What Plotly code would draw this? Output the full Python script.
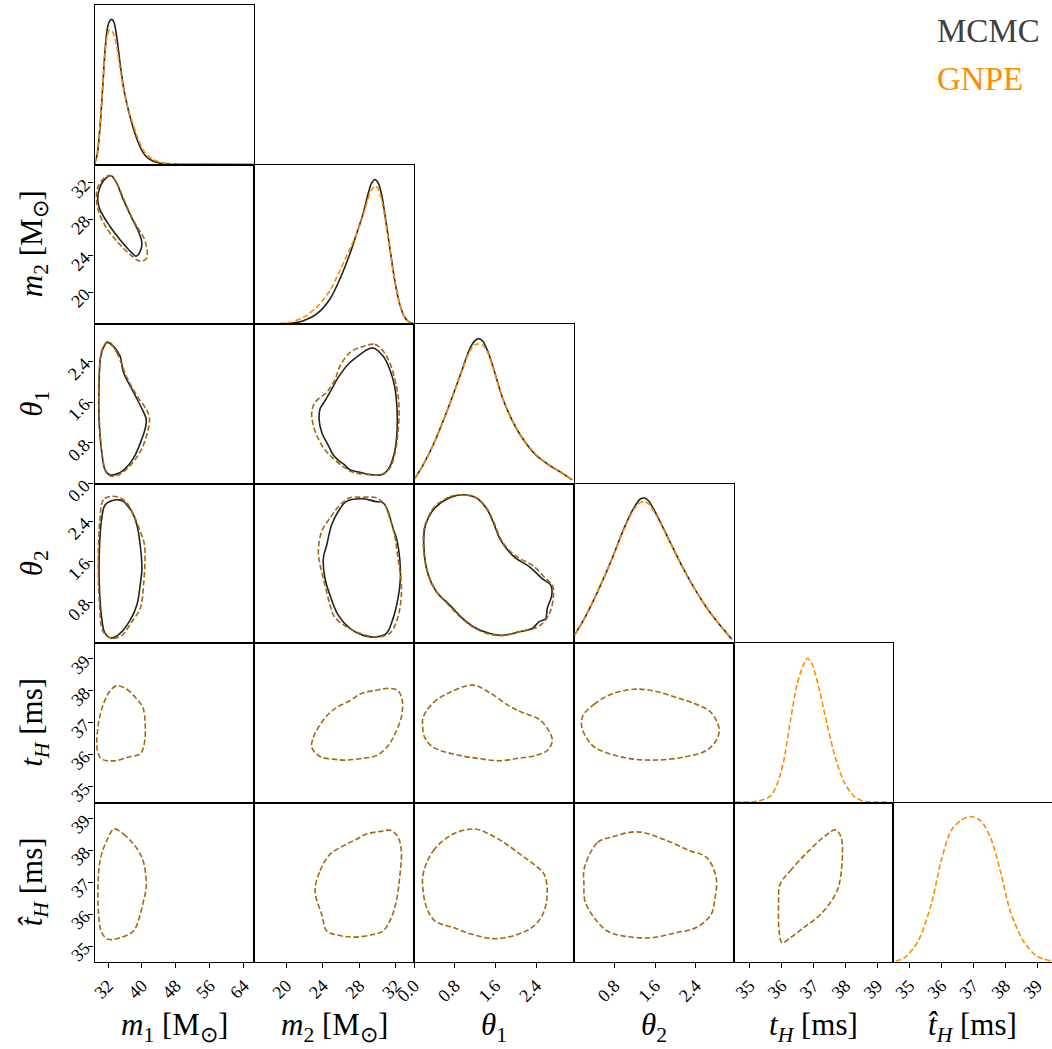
import plotly.graph_objects as go

# ---------------- data ----------------
# 1D marginals (x value, relative density height)
m1_grid_mcmc = [28.84, 29.47, 30.10, 30.74, 31.29, 31.84, 32.32, 32.87, 33.42, 34.05, 34.84, 35.63, 36.42, 37.21, 38.0, 38.79, 39.58, 40.76, 42.34, 44.31, 47.47, 55.4, 66.4]
m1_dens_mcmc = [0.004, 0.067, 0.235, 0.486, 0.717, 0.853, 0.897, 0.91, 0.889, 0.80, 0.633, 0.486, 0.382, 0.298, 0.224, 0.161, 0.109, 0.057, 0.025, 0.008, 0.003, 0.001, 0.0]
m1_grid_gnpe = [28.84, 29.47, 30.10, 30.74, 31.29, 31.84, 32.32, 32.87, 33.42, 34.05, 34.84, 35.63, 36.42, 37.21, 38.0, 38.79, 39.58, 40.76, 42.34, 44.31, 47.47, 55.4, 66.4]
m1_dens_gnpe = [0.008, 0.078, 0.245, 0.486, 0.696, 0.811, 0.843, 0.839, 0.811, 0.738, 0.602, 0.476, 0.382, 0.308, 0.245, 0.182, 0.130, 0.071, 0.036, 0.015, 0.004, 0.002, 0.0]

m2_grid = [16.62, 18.98, 20.44, 21.89, 23.34, 24.80, 25.89, 26.98, 27.71, 28.43, 28.98, 29.34, 29.71, 30.07, 30.43, 30.80, 31.34, 31.89, 32.43, 32.98, 33.52, 33.89]
m2_dens_mcmc = [0.0, 0.0, 0.004, 0.021, 0.063, 0.157, 0.283, 0.440, 0.566, 0.692, 0.818, 0.881, 0.906, 0.885, 0.818, 0.692, 0.482, 0.273, 0.126, 0.042, 0.010, 0.004]
m2_dens_gnpe = [0.0, 0.002, 0.010, 0.042, 0.105, 0.210, 0.336, 0.472, 0.566, 0.681, 0.786, 0.839, 0.864, 0.849, 0.786, 0.671, 0.472, 0.273, 0.126, 0.042, 0.010, 0.004]

th1_grid = [0.02, 0.18, 0.38, 0.57, 0.77, 0.96, 1.09, 1.19, 1.27, 1.35, 1.45, 1.58, 1.74, 1.94, 2.13, 2.39, 2.65, 2.91, 3.11]
th1_dens_mcmc = [0.033, 0.117, 0.243, 0.390, 0.557, 0.725, 0.840, 0.893, 0.908, 0.893, 0.830, 0.704, 0.536, 0.390, 0.285, 0.180, 0.117, 0.065, 0.023]
th1_dens_gnpe = [0.033, 0.117, 0.243, 0.390, 0.557, 0.720, 0.825, 0.868, 0.875, 0.868, 0.820, 0.700, 0.536, 0.392, 0.288, 0.185, 0.120, 0.068, 0.025]

th2_grid = [0.016, 0.21, 0.47, 0.73, 0.99, 1.18, 1.31, 1.39, 1.47, 1.63, 1.89, 2.15, 2.41, 2.67, 2.93, 3.11]
th2_dens_mcmc = [0.049, 0.154, 0.322, 0.511, 0.720, 0.846, 0.903, 0.909, 0.892, 0.804, 0.636, 0.469, 0.322, 0.196, 0.091, 0.024]
th2_dens_gnpe = [0.049, 0.154, 0.322, 0.511, 0.715, 0.835, 0.880, 0.885, 0.872, 0.795, 0.632, 0.467, 0.322, 0.196, 0.091, 0.024]

tH_grid = [34.55, 35.23, 35.65, 35.86, 36.07, 36.28, 36.49, 36.70, 36.82, 36.96, 37.17, 37.43, 37.69, 37.95, 38.27, 38.58, 39.42]
tH_dens_gnpe = [0.003, 0.008, 0.039, 0.112, 0.259, 0.511, 0.741, 0.867, 0.904, 0.867, 0.720, 0.489, 0.280, 0.133, 0.039, 0.008, 0.003]

tHh_grid = [34.58, 34.86, 35.28, 35.69, 36.0, 36.31, 36.61, 36.90, 37.23, 37.54, 37.85, 38.16, 38.57, 38.98, 39.44]
tHh_dens_gnpe = [0.006, 0.027, 0.132, 0.362, 0.635, 0.824, 0.887, 0.912, 0.887, 0.782, 0.572, 0.321, 0.132, 0.038, 0.006]

# 2D credible contours (closed loops)
m1m2_mcmc_x = [32.71, 34.06, 35.63, 37.62, 39.18, 39.99, 39.58, 38.63, 37.62, 34.84, 32.47, 30.10, 29.56, 29.87, 31.05]
m1m2_mcmc_y = [32.76, 31.93, 30.11, 28.11, 26.65, 25.39, 24.47, 23.93, 24.30, 25.75, 27.20, 29.02, 30.11, 31.20, 32.29]
m1m2_gnpe_x = [32.59, 34.06, 35.79, 37.69, 39.58, 40.65, 41.17, 41.17, 40.06, 39.1, 37.21, 34.37, 31.76, 29.87, 29.27, 29.51, 30.82]
m1m2_gnpe_y = [32.80, 31.93, 30.11, 28.15, 26.62, 25.75, 24.66, 23.75, 23.38, 23.46, 24.11, 25.42, 26.95, 28.69, 30.11, 31.42, 32.40]

m1th1_mcmc_x = [31.83, 33.26, 34.84, 35.63, 38.0, 39.99, 41.0, 40.77, 39.99, 38.40, 36.81, 34.44, 32.47, 31.29, 30.51, 29.87, 29.87, 30.27, 31.05]
m1th1_mcmc_y = [2.78, 2.70, 2.51, 2.19, 1.80, 1.47, 1.27, 1.08, 0.88, 0.56, 0.36, 0.20, 0.17, 0.27, 0.62, 1.27, 1.92, 2.51, 2.70]
m1th1_gnpe_x = [32.07, 34.06, 36.43, 38.80, 41.17, 41.79, 41.31, 39.99, 38.0, 35.63, 33.26, 31.69, 30.74, 29.94, 29.94, 30.74]
m1th1_gnpe_y = [2.80, 2.58, 2.09, 1.73, 1.44, 1.27, 1.01, 0.69, 0.43, 0.23, 0.14, 0.20, 0.49, 1.27, 2.25, 2.67]

m1th2_mcmc_x = [34.44, 32.88, 31.29, 30.51, 29.94, 29.94, 30.51, 31.29, 32.88, 34.84, 37.21, 38.80, 39.58, 39.99, 39.58, 38.80, 37.62, 36.43, 35.63]
m1th2_mcmc_y = [2.82, 2.80, 2.72, 2.46, 1.80, 1.14, 0.48, 0.19, 0.10, 0.19, 0.45, 0.75, 1.14, 1.47, 1.93, 2.33, 2.59, 2.72, 2.79]
m1th2_gnpe_x = [32.88, 30.89, 30.10, 29.70, 29.94, 30.89, 32.88, 35.25, 37.62, 39.58, 40.37, 40.60, 39.58, 38.0, 36.43, 34.84]
m1th2_gnpe_y = [2.89, 2.82, 2.46, 1.80, 0.81, 0.22, 0.09, 0.15, 0.42, 0.68, 1.14, 1.93, 2.20, 2.53, 2.76, 2.86]

m2th1_mcmc_x = [29.52, 30.61, 31.34, 31.87, 32.14, 32.14, 31.87, 31.34, 30.61, 29.52, 28.07, 26.98, 26.43, 25.70, 25.16, 24.61, 23.89, 23.60, 23.71, 24.25, 24.98, 25.70, 26.79, 28.07, 28.80]
m2th1_mcmc_y = [2.67, 2.51, 2.25, 1.92, 1.47, 1.01, 0.62, 0.33, 0.18, 0.17, 0.22, 0.27, 0.36, 0.46, 0.56, 0.75, 1.01, 1.27, 1.47, 1.63, 1.86, 2.09, 2.35, 2.54, 2.63]
m2th1_gnpe_x = [28.43, 29.71, 30.61, 31.34, 32.07, 32.36, 32.25, 31.87, 31.34, 30.25, 28.80, 27.34, 26.25, 25.16, 24.25, 23.52, 22.98, 22.80, 23.16, 24.44, 25.34, 25.89, 26.98]
m2th1_gnpe_y = [2.70, 2.74, 2.61, 2.38, 1.92, 1.53, 1.01, 0.56, 0.30, 0.17, 0.18, 0.22, 0.33, 0.49, 0.66, 0.88, 1.14, 1.40, 1.60, 1.80, 2.05, 2.31, 2.58]

m2th2_mcmc_x = [28.43, 29.71, 30.61, 31.16, 31.70, 32.07, 32.43, 32.51, 32.25, 31.70, 30.98, 29.89, 28.43, 26.98, 25.70, 24.80, 24.25, 24.07, 24.44, 24.98, 25.70, 26.61]
m2th2_mcmc_y = [2.84, 2.79, 2.76, 2.59, 2.26, 2.07, 1.67, 1.27, 0.88, 0.48, 0.19, 0.12, 0.15, 0.29, 0.55, 0.94, 1.27, 1.67, 1.93, 2.33, 2.59, 2.79]
m2th2_gnpe_x = [26.98, 28.43, 29.89, 30.80, 31.34, 31.87, 32.25, 32.62, 32.51, 32.07, 31.34, 29.89, 28.07, 26.61, 25.27, 24.80, 24.25, 23.71, 23.52, 23.89, 24.80, 25.89]
m2th2_gnpe_y = [2.86, 2.87, 2.86, 2.72, 2.46, 2.13, 1.67, 1.14, 0.75, 0.42, 0.19, 0.12, 0.19, 0.32, 0.52, 0.75, 1.14, 1.54, 1.80, 2.20, 2.46, 2.72]

th1th2_mcmc_x = [0.41, 0.70, 0.96, 1.22, 1.42, 1.55, 1.68, 1.81, 2.00, 2.26, 2.52, 2.69, 2.71, 2.62, 2.59, 2.46, 2.33, 2.07, 1.74, 1.48, 1.22, 0.96, 0.70, 0.44, 0.28, 0.20, 0.21, 0.28]
th1th2_mcmc_y = [2.66, 2.86, 2.92, 2.86, 2.66, 2.40, 2.07, 1.87, 1.67, 1.51, 1.27, 1.14, 0.94, 0.68, 0.48, 0.42, 0.29, 0.22, 0.15, 0.19, 0.29, 0.48, 0.75, 1.01, 1.34, 1.80, 2.26, 2.46]
th1th2_gnpe_x = [0.40, 0.70, 0.98, 1.24, 1.44, 1.57, 1.70, 1.84, 2.05, 2.33, 2.58, 2.73, 2.74, 2.68, 2.56, 2.40, 2.10, 1.74, 1.46, 1.20, 0.92, 0.66, 0.44, 0.28, 0.19, 0.20, 0.28]
th1th2_gnpe_y = [2.68, 2.88, 2.92, 2.85, 2.64, 2.38, 2.06, 1.86, 1.68, 1.53, 1.28, 1.12, 0.90, 0.62, 0.42, 0.30, 0.23, 0.15, 0.18, 0.29, 0.50, 0.77, 1.02, 1.36, 1.82, 2.26, 2.48]

m1tH_gnpe_x = [34.06, 36.42, 38.79, 40.21, 40.77, 40.53, 39.58, 37.21, 33.66, 30.50, 29.47, 29.71, 30.89, 32.47]
m1tH_gnpe_y = [38.16, 38.05, 37.74, 37.48, 36.96, 36.33, 36.02, 35.94, 35.81, 35.86, 36.13, 36.96, 37.58, 38.0]
m1tHh_gnpe_x = [33.42, 35.63, 38.0, 39.99, 40.77, 41.0, 40.37, 39.58, 38.0, 34.84, 32.08, 30.50, 29.71, 29.71, 30.26, 31.68]
m1tHh_gnpe_y = [38.67, 38.51, 38.20, 37.78, 37.36, 36.83, 36.42, 35.99, 35.47, 35.26, 35.21, 35.42, 36.10, 37.15, 37.78, 38.30]

m2tH_gnpe_x = [22.80, 22.98, 23.52, 24.44, 25.53, 26.98, 28.25, 29.89, 31.34, 32.25, 32.72, 32.61, 31.89, 31.16, 29.89, 28.43, 26.62, 25.16, 23.71]
m2tH_gnpe_y = [36.23, 36.54, 36.85, 37.22, 37.48, 37.69, 37.92, 38.02, 38.08, 38.0, 37.69, 37.17, 36.64, 36.28, 35.97, 35.89, 35.83, 35.86, 35.94]
m2tHh_gnpe_x = [23.16, 23.71, 24.80, 26.25, 27.71, 28.80, 30.25, 31.52, 32.25, 32.61, 32.43, 32.07, 31.52, 30.61, 29.52, 27.34, 25.53, 24.44, 23.89]
m2tHh_gnpe_y = [36.73, 37.36, 37.88, 38.14, 38.35, 38.51, 38.59, 38.62, 38.41, 37.99, 37.15, 36.42, 35.89, 35.47, 35.36, 35.28, 35.35, 35.47, 35.99]

th1tH_gnpe_x = [0.18, 0.38, 0.70, 1.16, 1.48, 1.87, 2.13, 2.46, 2.65, 2.72, 2.62, 2.39, 2.07, 1.68, 1.22, 0.77, 0.38, 0.21, 0.17]
th1tH_gnpe_y = [37.17, 37.63, 37.95, 38.18, 37.95, 37.53, 37.32, 37.11, 36.75, 36.44, 36.13, 35.97, 35.89, 35.81, 35.89, 36.02, 36.23, 36.54, 36.91]
th1tHh_gnpe_x = [0.18, 0.38, 0.77, 1.19, 1.48, 1.81, 2.13, 2.39, 2.56, 2.62, 2.56, 2.39, 2.13, 1.61, 1.16, 0.77, 0.41, 0.25, 0.18]
th1tHh_gnpe_y = [37.25, 37.99, 38.51, 38.67, 38.51, 38.20, 37.83, 37.52, 37.25, 36.73, 36.10, 35.68, 35.42, 35.23, 35.36, 35.58, 35.79, 36.20, 36.73]

th2tH_gnpe_x = [0.18, 0.40, 0.73, 1.18, 1.57, 2.02, 2.41, 2.70, 2.86, 2.80, 2.61, 2.22, 1.63, 1.05, 0.53, 0.34, 0.16]
th2tH_gnpe_y = [37.22, 37.58, 37.89, 38.05, 38.0, 37.79, 37.58, 37.32, 36.80, 36.44, 36.13, 35.94, 35.83, 35.89, 36.13, 36.33, 36.85]
th2tHh_gnpe_x = [0.21, 0.47, 0.73, 1.25, 1.76, 2.28, 2.61, 2.80, 2.77, 2.70, 2.41, 2.02, 1.50, 0.99, 0.66, 0.40, 0.22, 0.20]
th2tHh_gnpe_y = [37.46, 38.25, 38.41, 38.58, 38.35, 37.99, 37.78, 37.15, 36.42, 35.99, 35.58, 35.42, 35.26, 35.31, 35.47, 35.89, 36.42, 36.94]

tHtHh_gnpe_x = [35.96, 36.28, 36.80, 37.32, 37.69, 37.87, 37.85, 37.69, 37.22, 36.70, 36.28, 36.02, 35.94, 35.91]
tHtHh_gnpe_y = [36.94, 37.36, 37.93, 38.41, 38.64, 38.41, 37.15, 36.62, 35.99, 35.58, 35.26, 35.10, 35.36, 36.31]

# axis labels and ticks
axis_labels = ["<i>m</i><sub>1</sub> [M<sub>⊙</sub>]", "<i>m</i><sub>2</sub> [M<sub>⊙</sub>]",
               "<i>θ</i><sub>1</sub>", "<i>θ</i><sub>2</sub>",
               "<i>t</i><sub><i>H</i></sub> [ms]", "<i>t̂</i><sub><i>H</i></sub> [ms]"]
tick_vals = [[32, 40, 48, 56, 64], [20, 24, 28, 32], [0.0, 0.8, 1.6, 2.4], [0.8, 1.6, 2.4],
             [35, 36, 37, 38, 39], [35, 36, 37, 38, 39]]
tick_text = [["32", "40", "48", "56", "64"], ["20", "24", "28", "32"], ["0.0", "0.8", "1.6", "2.4"],
             ["0.8", "1.6", "2.4"], ["35", "36", "37", "38", "39"], ["35", "36", "37", "38", "39"]]
ranges = [[28.8, 66.5], [16.5, 34.0], [0.0, 3.1416], [0.0, 3.1416], [34.5, 39.5], [34.5, 39.5]]
legend_names = ["MCMC", "GNPE"]

# ---------------- styling ----------------
W, H = 1052, 1049
FONT = "Liberation Serif"
C_MCMC = "#222222"
C_GNPE = "#ff8c00"
C_GNPE_C = "#a9650e"
DASH = "5.5px,2.6px"

col_edges = [94.5 + 159.75 * i for i in range(7)]
row_edges = [5.0 + 159.5 * i for i in range(7)]

diag = {
    0: [(m1_grid_mcmc, m1_dens_mcmc, "m"), (m1_grid_gnpe, m1_dens_gnpe, "g")],
    1: [(m2_grid, m2_dens_mcmc, "m"), (m2_grid, m2_dens_gnpe, "g")],
    2: [(th1_grid, th1_dens_mcmc, "m"), (th1_grid, th1_dens_gnpe, "g")],
    3: [(th2_grid, th2_dens_mcmc, "m"), (th2_grid, th2_dens_gnpe, "g")],
    4: [(tH_grid, tH_dens_gnpe, "g")],
    5: [(tHh_grid, tHh_dens_gnpe, "g")],
}
off = {
    (1, 0): [(m1m2_mcmc_x, m1m2_mcmc_y, "m"), (m1m2_gnpe_x, m1m2_gnpe_y, "g")],
    (2, 0): [(m1th1_mcmc_x, m1th1_mcmc_y, "m"), (m1th1_gnpe_x, m1th1_gnpe_y, "g")],
    (3, 0): [(m1th2_mcmc_x, m1th2_mcmc_y, "m"), (m1th2_gnpe_x, m1th2_gnpe_y, "g")],
    (2, 1): [(m2th1_mcmc_x, m2th1_mcmc_y, "m"), (m2th1_gnpe_x, m2th1_gnpe_y, "g")],
    (3, 1): [(m2th2_mcmc_x, m2th2_mcmc_y, "m"), (m2th2_gnpe_x, m2th2_gnpe_y, "g")],
    (3, 2): [(th1th2_mcmc_x, th1th2_mcmc_y, "m"), (th1th2_gnpe_x, th1th2_gnpe_y, "g")],
    (4, 0): [(m1tH_gnpe_x, m1tH_gnpe_y, "g")],
    (5, 0): [(m1tHh_gnpe_x, m1tHh_gnpe_y, "g")],
    (4, 1): [(m2tH_gnpe_x, m2tH_gnpe_y, "g")],
    (5, 1): [(m2tHh_gnpe_x, m2tHh_gnpe_y, "g")],
    (4, 2): [(th1tH_gnpe_x, th1tH_gnpe_y, "g")],
    (5, 2): [(th1tHh_gnpe_x, th1tHh_gnpe_y, "g")],
    (4, 3): [(th2tH_gnpe_x, th2tH_gnpe_y, "g")],
    (5, 3): [(th2tHh_gnpe_x, th2tHh_gnpe_y, "g")],
    (5, 4): [(tHtHh_gnpe_x, tHtHh_gnpe_y, "g")],
}

fig = go.Figure()
layout = {}
k = 0
for r in range(6):
    for c in range(r + 1):
        k += 1
        xa = "x" if k == 1 else f"x{k}"
        ya = "y" if k == 1 else f"y{k}"
        xkey = "xaxis" if k == 1 else f"xaxis{k}"
        ykey = "yaxis" if k == 1 else f"yaxis{k}"
        x0 = col_edges[c]
        x1 = min(col_edges[c + 1], W)
        xr = list(ranges[c])
        if col_edges[c + 1] > W:
            xr[1] = xr[0] + (xr[1] - xr[0]) * (x1 - x0) / (col_edges[c + 1] - x0)
        bottom = (r == 5)
        layout[xkey] = dict(
            domain=[x0 / W, x1 / W], range=xr, anchor=ya, automargin=False,
            showline=True, mirror=True, linecolor="black", linewidth=1.3,
            showgrid=False, zeroline=False,
            ticks="outside" if bottom else "", ticklen=5, tickwidth=1.1, tickcolor="black",
            showticklabels=bottom, tickmode="array", tickvals=tick_vals[c], ticktext=tick_text[c],
            tickangle=-45, tickfont=dict(family=FONT, size=18, color="black"),
        )
        y_top = row_edges[r]
        y_bot = row_edges[r + 1]
        left = (c == 0 and r > 0)
        if r == c:
            yr = [0, 1.0]
        else:
            yr = ranges[r]
        layout[ykey] = dict(
            domain=[1 - y_bot / H, 1 - y_top / H], range=yr, anchor=xa, automargin=False,
            showline=True, mirror=True, linecolor="black", linewidth=1.3,
            showgrid=False, zeroline=False,
            ticks="outside" if left else "", ticklen=5, tickwidth=1.1, tickcolor="black",
            showticklabels=left, tickmode="array", tickvals=tick_vals[r], ticktext=tick_text[r],
            tickangle=-45, tickfont=dict(family=FONT, size=18, color="black"),
        )
        if r == c:
            for gx, gy, who in diag[r]:
                if who == "m":
                    line = dict(color=C_MCMC, width=1.6)
                else:
                    line = dict(color=C_GNPE, width=1.6, dash=DASH)
                fig.add_trace(go.Scatter(x=gx, y=gy, mode="lines", line=dict(shape="spline", smoothing=0.8, **line),
                                         xaxis=xa, yaxis=ya, hoverinfo="skip"))
        else:
            for cx, cy, who in off[(r, c)]:
                xs = list(cx) + [cx[0]]
                ys = list(cy) + [cy[0]]
                if who == "m":
                    line = dict(color=C_MCMC, width=1.6)
                else:
                    line = dict(color=C_GNPE_C, width=1.6, dash=DASH)
                fig.add_trace(go.Scatter(x=xs, y=ys, mode="lines", line=dict(shape="spline", smoothing=1.0, **line),
                                         xaxis=xa, yaxis=ya, hoverinfo="skip"))

annotations = []
for c in range(6):
    xc = (col_edges[c] + min(col_edges[c + 1], W)) / 2
    annotations.append(dict(text=axis_labels[c], x=xc / W, y=1 - 1027 / H, xref="paper", yref="paper",
                            xanchor="center", yanchor="middle", showarrow=False,
                            font=dict(family=FONT, size=31, color="black")))
for r in range(1, 6):
    yc = (row_edges[r] + row_edges[r + 1]) / 2
    annotations.append(dict(text=axis_labels[r], x=34 / W, y=1 - yc / H, xref="paper", yref="paper",
                            xanchor="center", yanchor="middle", showarrow=False, textangle=-90,
                            font=dict(family=FONT, size=31, color="black")))
annotations.append(dict(text=legend_names[0], x=935 / W, y=1 - 31 / H, xref="paper", yref="paper",
                        xanchor="left", yanchor="middle", showarrow=False,
                        font=dict(family=FONT, size=33, color="#404040")))
annotations.append(dict(text=legend_names[1], x=935 / W, y=1 - 79 / H, xref="paper", yref="paper",
                        xanchor="left", yanchor="middle", showarrow=False,
                        font=dict(family=FONT, size=33, color=C_GNPE)))

fig.update_layout(width=W, height=H, margin=dict(l=0, r=0, t=0, b=0, autoexpand=False),
                  paper_bgcolor="white", plot_bgcolor="white", showlegend=False,
                  annotations=annotations, **layout)

fig.write_html("out.html", config={"displayModeBar": False},
               post_script="document.body.style.margin='0';document.body.style.overflow='hidden';")
